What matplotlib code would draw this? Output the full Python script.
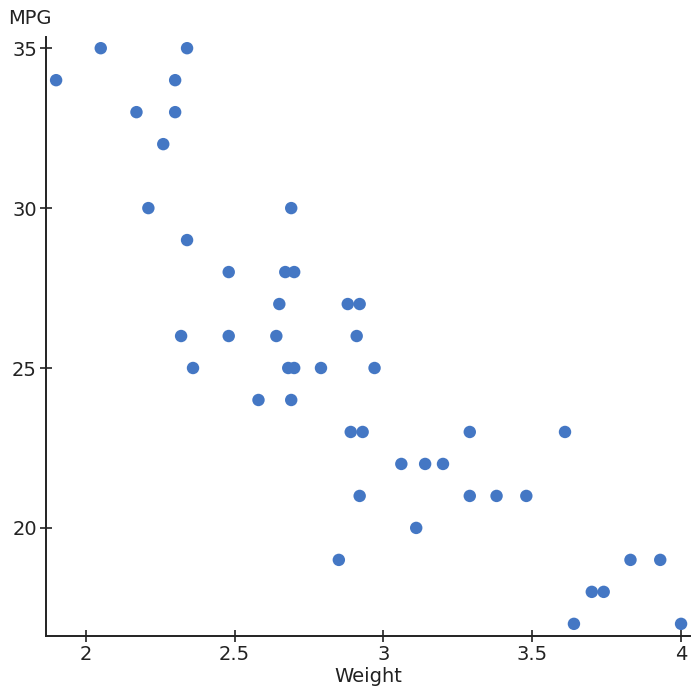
import numpy as np
import matplotlib
matplotlib.use("Agg")
import matplotlib.pyplot as plt

# car weight (1000 lb) vs MPG
weight = [1.90, 2.05, 2.34, 2.30, 2.17, 2.30, 2.26, 2.21, 2.69,
          2.34, 2.48, 2.67, 2.70, 2.65, 2.88, 2.92,
          2.48, 2.64, 2.91, 2.36, 2.68, 2.70, 2.79, 2.97,
          2.58, 2.69, 2.89, 2.93, 3.29, 3.61,
          3.06, 3.14, 3.20, 2.92, 3.29, 3.38, 3.48,
          3.11, 2.85, 3.83, 3.93, 3.70, 3.74, 3.64, 4.00,
          2.32]
mpg = [34, 35, 35, 34, 33, 33, 32, 30, 30,
       29, 28, 28, 28, 27, 27, 27,
       26, 26, 26, 25, 25, 25, 25, 25,
       24, 24, 23, 23, 23, 23,
       22, 22, 22, 21, 21, 21, 21,
       20, 19, 19, 19, 18, 18, 17, 17,
       26]

fig = plt.figure(figsize=(6.91, 6.96), dpi=100)
ax = fig.add_axes([46/691, 60/696, 644/691, 599/696])
ax.scatter(weight, mpg, s=80, color="#4477c4", edgecolors="none", zorder=3)

ax.set_xlim(1.866, 4.03)
ax.set_ylim(16.62, 35.35)
ax.set_xticks([2, 2.5, 3, 3.5, 4])
ax.set_xticklabels(["2", "2.5", "3", "3.5", "4"])
ax.set_yticks([20, 25, 30, 35])
for s in ["top", "right"]:
    ax.spines[s].set_visible(False)
for s in ["left", "bottom"]:
    ax.spines[s].set_linewidth(1.4)
    ax.spines[s].set_color("#222222")
ax.tick_params(direction="inout", length=9, width=1.2, labelsize=14,
               colors="#222222", pad=2)
ax.set_xlabel("Weight", fontsize=14, color="#222222", labelpad=2)
fig.text(8/691, 1 - 18/696, "MPG", fontsize=14, color="#222222",
         va="center", ha="left")
fig.savefig("out.png", dpi=100)
